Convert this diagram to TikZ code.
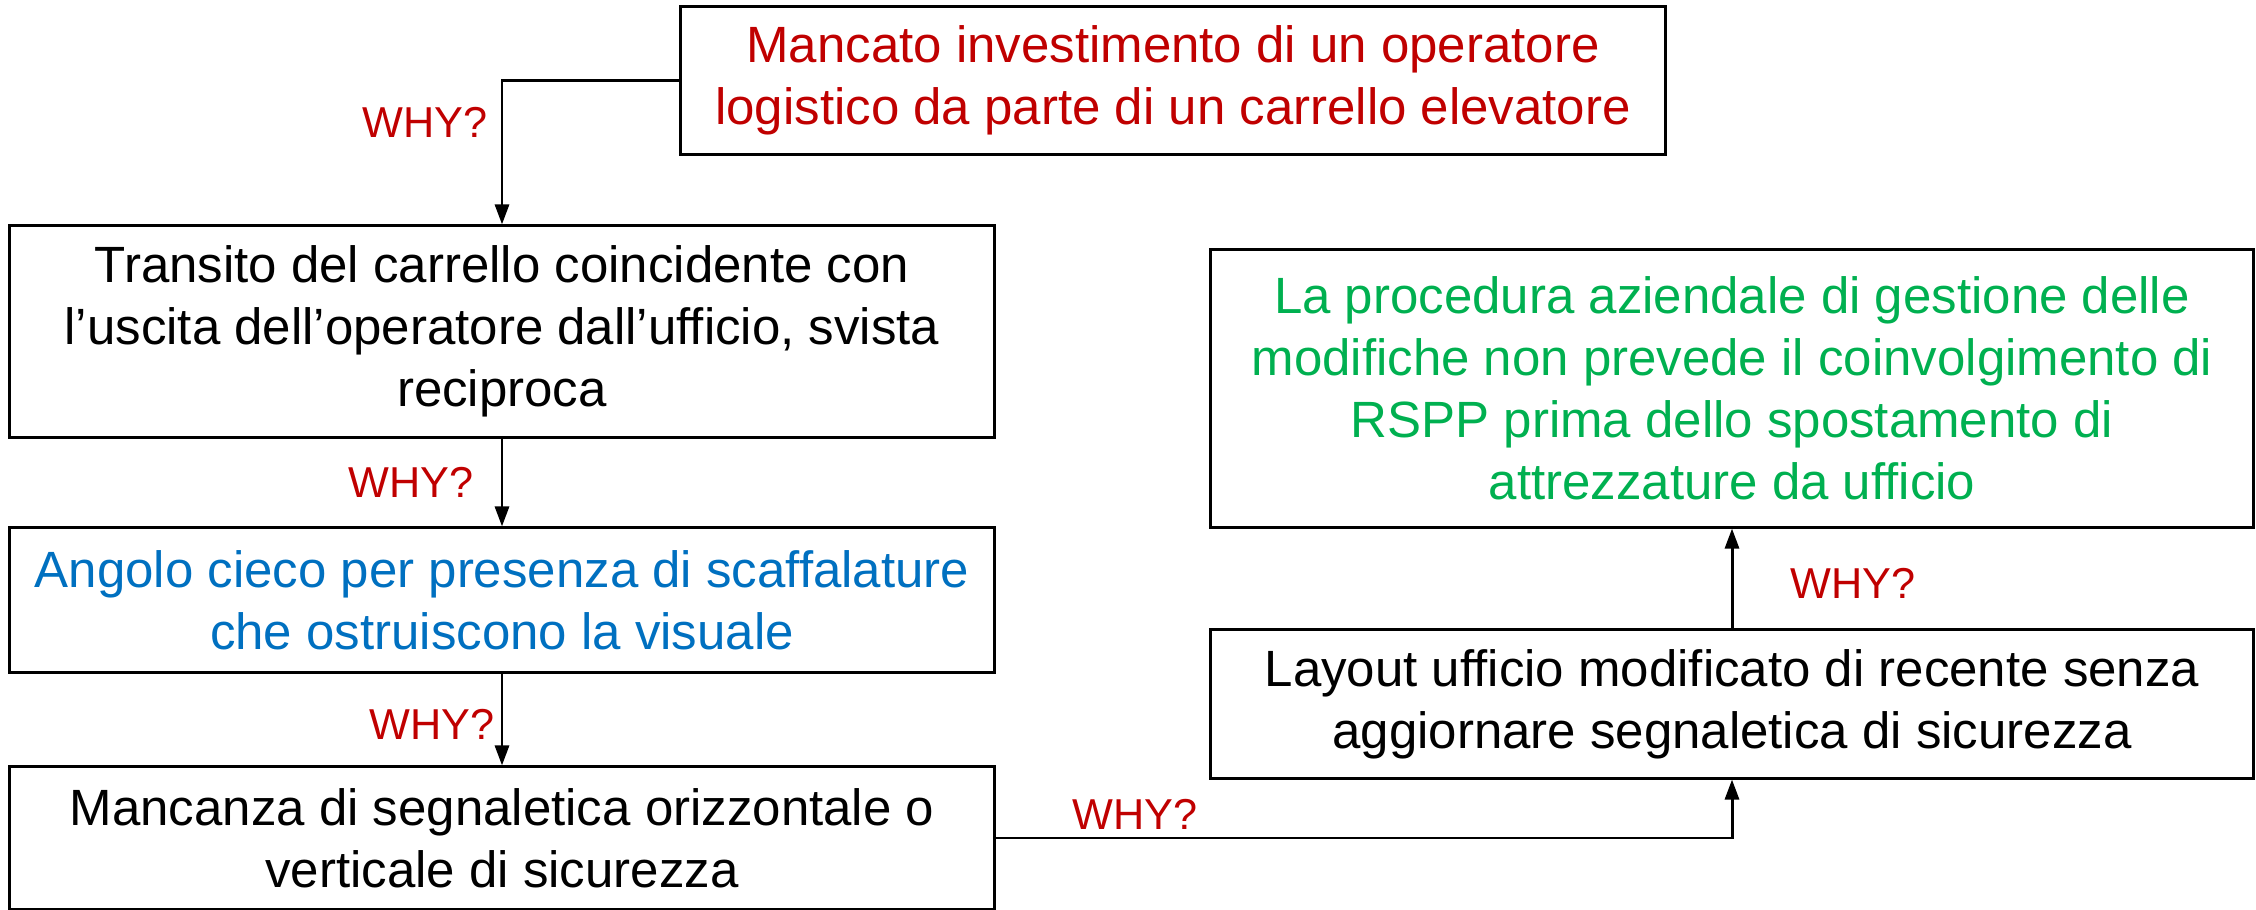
\documentclass[tikz,border=0pt]{standalone}
\usepackage{fontspec}
\setmainfont{Liberation Sans}
\usetikzlibrary{arrows.meta}
\definecolor{whyred}{HTML}{C00000}
\definecolor{bluetxt}{HTML}{0070C0}
\definecolor{greentxt}{HTML}{00B050}
\begin{document}
\begin{tikzpicture}[x=0.01cm,y=-0.01cm,
  box/.style={draw=black,line width=0.85pt,rectangle,align=center,inner sep=0pt,
    font=\fontsize{14.5}{17.6}\selectfont},
  why/.style={text=whyred,inner sep=0pt,font=\fontsize{12.3}{14}\selectfont},
  conn/.style={draw=black,line width=0.85pt,-{Triangle[length=0.2cm,width=0.14cm]}}]
\useasboundingbox (0,0) rectangle (2256,910);
\node[box,text=whyred,minimum width=9.84cm,minimum height=1.47cm] (b1) at (1173,80.5)
  {Mancato investimento di un operatore\\logistico da parte di un carrello elevatore};
\node[box,minimum width=9.84cm,minimum height=2.11cm] (b2) at (502,331.5)
  {Transito del carrello coincidente con\\l’uscita dell’operatore dall’ufficio, svista\\reciproca};
\node[box,text=bluetxt,minimum width=9.84cm,minimum height=1.44cm] (b3) at (502,600)
  {Angolo cieco per presenza di scaffalature\\che ostruiscono la visuale};
\node[box,minimum width=9.84cm,minimum height=1.42cm] (b4) at (502,838)
  {Mancanza di segnaletica orizzontale o\\verticale di sicurezza};
\node[box,minimum width=10.42cm,minimum height=1.48cm] (b5) at (1732,704)
  {Layout ufficio modificato di recente senza\\aggiornare segnaletica di sicurezza};
\node[box,text=greentxt,minimum width=10.42cm,minimum height=2.77cm] (b6) at (1732,388.5)
  {La procedura aziendale di gestione delle\\modifiche non prevede il coinvolgimento di\\RSPP prima dello spostamento di\\attrezzature da ufficio};
\draw[conn] (b1.west) -| (b2.north);
\draw[conn] (b2.south) -- (b3.north);
\draw[conn] (b3.south) -- (b4.north);
\draw[conn] (b4.east) -| (b5.south);
\draw[conn] (b5.north) -- (b6.south);
\node[why] (w1) at (425,122) {WHY?};
\node[why] (w2) at (411,482) {WHY?};
\node[why] (w3) at (432,724) {WHY?};
\node[why] (w4) at (1135,814) {WHY?};
\node[why] (w5) at (1853,583) {WHY?};
\end{tikzpicture}
\end{document}
